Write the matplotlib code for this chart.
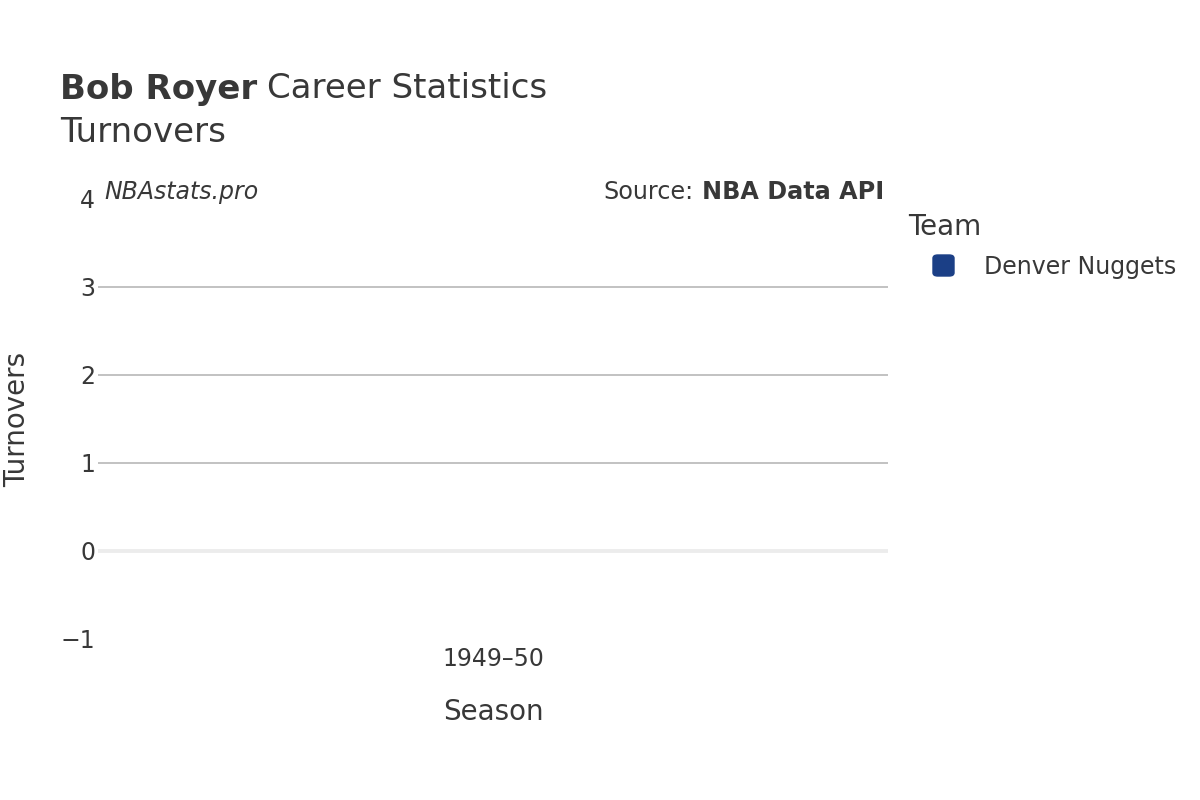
import numpy as np
import matplotlib.pyplot as plt
from matplotlib.patches import FancyBboxPatch

plt.rcParams['font.family'] = ['DejaVu Sans']

# data
seasons = ['1949–50']
turnovers = [0]
team = 'Denver Nuggets'
team_color = '#1b3f86'

txt = '#383838'
W, H = 1200, 800

fig = plt.figure(figsize=(12, 8), dpi=100)
ax = fig.add_axes([98/W, 1 - 639/H, 790/W, 440/H])

x = np.arange(len(seasons))
ax.bar(x, turnovers, width=0.8, color=team_color)

ax.set_xlim(-0.5, len(seasons) - 0.5)
ax.set_ylim(-1, 4)
ax.set_yticks([-1, 0, 1, 2, 3, 4])
ax.set_yticklabels(['−1', '0', '1', '2', '3', '4'])
ax.set_xticks(x)
ax.set_xticklabels(seasons)

for v in [1, 2, 3]:
    ax.axhline(v, color='#bdbdbd', lw=1.3, zorder=0)
ax.axhline(0, color='#ececec', lw=2.8, zorder=0)

for s in ax.spines.values():
    s.set_visible(False)
ax.tick_params(length=0, labelsize=17, colors=txt)
ax.tick_params(axis='y', pad=2)
ax.tick_params(axis='x', pad=6)

fig.text(493/W, 1 - 712/H, 'Season', fontsize=20, color=txt,
         ha='center', va='center')
fig.text(17/W, 1 - 419/H, 'Turnovers', rotation=90, fontsize=20,
         color=txt, ha='center', va='center')

# title
t1 = fig.text(60/W, 1 - 89/H, 'Bob Royer', fontsize=24.5, fontweight='bold',
              color=txt, va='center')
fig.canvas.draw()
r = fig.canvas.get_renderer()
bb = t1.get_window_extent(r)
fig.text((bb.x1 + 10) / W, 1 - 89/H, 'Career Statistics', fontsize=24.5,
         color=txt, va='center')
fig.text(60/W, 1 - 133/H, 'Turnovers', fontsize=24.5, color=txt, va='center')

# watermark + source
fig.text(104/W, 1 - 192/H, 'NBAstats.pro', fontsize=17, style='italic',
         color=txt, va='center')
s2 = fig.text(884/W, 1 - 192/H, 'NBA Data API', fontsize=17.2,
              fontweight='bold', color=txt, va='center', ha='right')
bb2 = s2.get_window_extent(r)
fig.text((bb2.x0 - 8) / W, 1 - 192/H, 'Source:', fontsize=17.2,
         color=txt, va='center', ha='right')

# legend
fig.text(908/W, 1 - 227/H, 'Team', fontsize=20, color=txt, va='center')
fig.patches.append(FancyBboxPatch((933/W, 1 - 276/H), 21/W, 21/H,
                                  boxstyle='round,pad=0,rounding_size=0.004',
                                  transform=fig.transFigure, color=team_color,
                                  figure=fig))
fig.text(984/W, 1 - 267/H, team, fontsize=17, color=txt, va='center')

fig.savefig('out.png', dpi=100)
